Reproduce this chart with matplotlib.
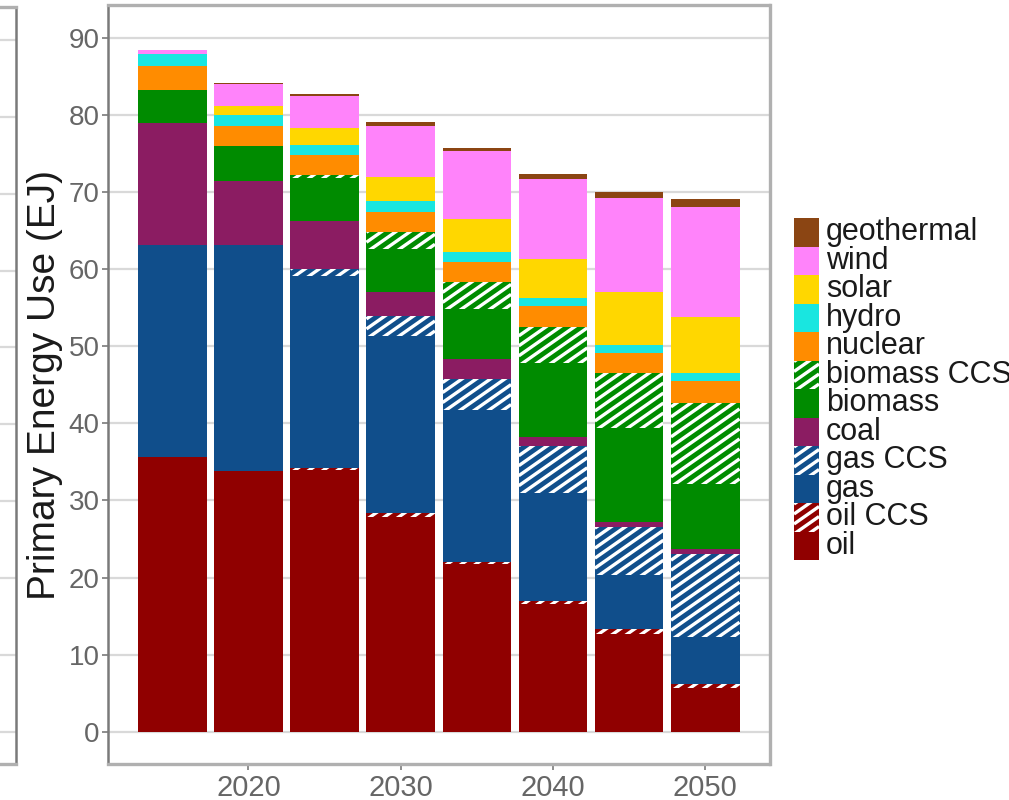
import numpy as np
import matplotlib.pyplot as plt
from matplotlib.patches import Rectangle

plt.rcParams['font.family'] = ['Liberation Sans', 'DejaVu Sans']

# primary energy by source (EJ), stacked bottom to top
years = [2015, 2020, 2025, 2030, 2035, 2040, 2045, 2050]
oil = [35.7, 33.8, 33.9, 27.9, 21.7, 16.5, 12.7, 5.6]
oil_ccs = [0.0, 0.0, 0.35, 0.5, 0.35, 0.5, 0.65, 0.6]
gas = [27.4, 29.3, 24.85, 22.95, 19.75, 14.0, 6.95, 6.05]
gas_ccs = [0.0, 0.0, 0.9, 2.6, 3.9, 6.1, 6.3, 10.85]
coal = [15.9, 8.4, 6.3, 3.05, 2.6, 1.1, 0.65, 0.65]
biomass = [4.3, 4.5, 5.5, 5.6, 6.5, 9.65, 12.15, 8.4]
biomass_ccs = [0.0, 0.0, 0.5, 2.2, 3.6, 4.65, 7.15, 10.45]
nuclear = [3.1, 2.6, 2.5, 2.6, 2.5, 2.8, 2.65, 2.85]
hydro = [1.5, 1.4, 1.3, 1.4, 1.3, 0.95, 1.0, 1.05]
solar = [0.05, 1.2, 2.2, 3.2, 4.3, 5.15, 6.8, 7.3]
wind = [0.45, 2.8, 4.2, 6.6, 8.85, 10.35, 12.25, 14.35]
geothermal = [0.05, 0.2, 0.3, 0.5, 0.45, 0.65, 0.75, 0.95]

x_ticks = [2020, 2030, 2040, 2050]
y_ticks = list(range(0, 100, 10))

C_OIL, C_GAS, C_BIO = '#900000', '#104E8B', '#008B00'
layers = [
    ('oil', oil, C_OIL, False),
    ('oil CCS', oil_ccs, C_OIL, True),
    ('gas', gas, C_GAS, False),
    ('gas CCS', gas_ccs, C_GAS, True),
    ('coal', coal, '#8B1C62', False),
    ('biomass', biomass, C_BIO, False),
    ('biomass CCS', biomass_ccs, C_BIO, True),
    ('nuclear', nuclear, '#FF8C00', False),
    ('hydro', hydro, '#19E6E0', False),
    ('solar', solar, '#FFD700', False),
    ('wind', wind, '#FF83FA', False),
    ('geothermal', geothermal, '#8B4513', False),
]

W, H = 1009, 800
fig = plt.figure(figsize=(W / 100, H / 100), dpi=100)


def add_stripes(ax, rect, slope, step, lw=2.4, color='white'):
    x0, y0 = rect.get_x(), rect.get_y()
    w, h = rect.get_width(), rect.get_height()
    if h <= 0:
        return
    for c in np.arange(-slope * w - step * 0.5, h + step, step):
        ln, = ax.plot([x0, x0 + w], [y0 + c, y0 + c + slope * w], color=color,
                      lw=lw, solid_capstyle='butt', zorder=rect.get_zorder() + 0.1)
        ln.set_clip_path(rect)


GRID = '#d9d9d9'
FRAME = '#b0b0b0'
AXIS = '#7a7a7a'
ylim = (-4.2, 94.3)

# sliver of the neighbouring panel on the far left
ax0 = fig.add_axes([-0.05, 36 / H, 0.05 + 16 / W, 757 / H])
ax0.set_ylim(ylim)
ax0.set_xlim(0, 1)
ax0.set_yticks(y_ticks)
ax0.set_xticks([])
ax0.tick_params(axis='y', length=0, labelleft=False)
ax0.yaxis.grid(True, color=GRID, lw=1.6)
ax0.spines['left'].set_visible(False)
ax0.spines['right'].set_color(AXIS)
ax0.spines['right'].set_linewidth(1.8)
for s in ('top', 'bottom'):
    ax0.spines[s].set_color(FRAME)
    ax0.spines[s].set_linewidth(2.4)

ax = fig.add_axes([108 / W, 36 / H, 661.5 / W, 759 / H])
ax.set_xlim(2010.78, 2054.22)
ax.set_ylim(ylim)
ax.set_axisbelow(True)
ax.yaxis.grid(True, color=GRID, lw=1.6)

(px0, py0), (px1, py1) = ax.transData.transform([(0, 0), (1, 1)])
sx, sy = px1 - px0, py1 - py0
angle = np.radians(35)
slope = np.tan(angle) * sx / sy
step = 10.0 / sy

bottom = np.zeros(len(years))
for name, vals, color, striped in layers:
    vals = np.asarray(vals)
    bars = ax.bar(years, vals, width=4.5, bottom=bottom, color=color,
                  linewidth=0, zorder=2)
    if striped:
        for rect in bars:
            add_stripes(ax, rect, slope, step)
    bottom += vals

ax.set_xticks(x_ticks)
ax.set_yticks(y_ticks)
ax.tick_params(axis='y', length=4, width=1.2, color=AXIS, pad=2,
               labelsize=20, labelcolor='#666666')
ax.tick_params(axis='x', length=4, width=1.2, color=AXIS, pad=3,
               labelsize=21, labelcolor='#666666')
ax.spines['left'].set_color(AXIS)
ax.spines['left'].set_linewidth(1.8)
for s in ('top', 'right', 'bottom'):
    ax.spines[s].set_color(FRAME)
    ax.spines[s].set_linewidth(2.4)

ax.set_ylabel('Primary Energy Use (EJ)', fontsize=28, color='#1a1a1a')
ax.yaxis.label.set_va('center')
ax.yaxis.set_label_coords((45 - 108) / 661.5, 0.5)

# legend, top entry first, drawn on a pixel-space overlay
lg = fig.add_axes([0, 0, 1, 1], facecolor='none')
lg.set_xlim(0, W)
lg.set_ylim(0, H)
lg.axis('off')
row_h = 28.5
top = H - 218
for i, (name, vals, color, striped) in enumerate(layers[::-1]):
    y = top - (i + 1) * row_h
    key = Rectangle((794, y), 25, row_h, facecolor=color, lw=0)
    lg.add_patch(key)
    if striped:
        add_stripes(lg, key, np.tan(angle), 10.0, lw=2.4)
    lg.text(826, y + row_h / 2, name, fontsize=22, color='#1a1a1a',
            va='center', ha='left')

fig.savefig('out.png', dpi=100)
